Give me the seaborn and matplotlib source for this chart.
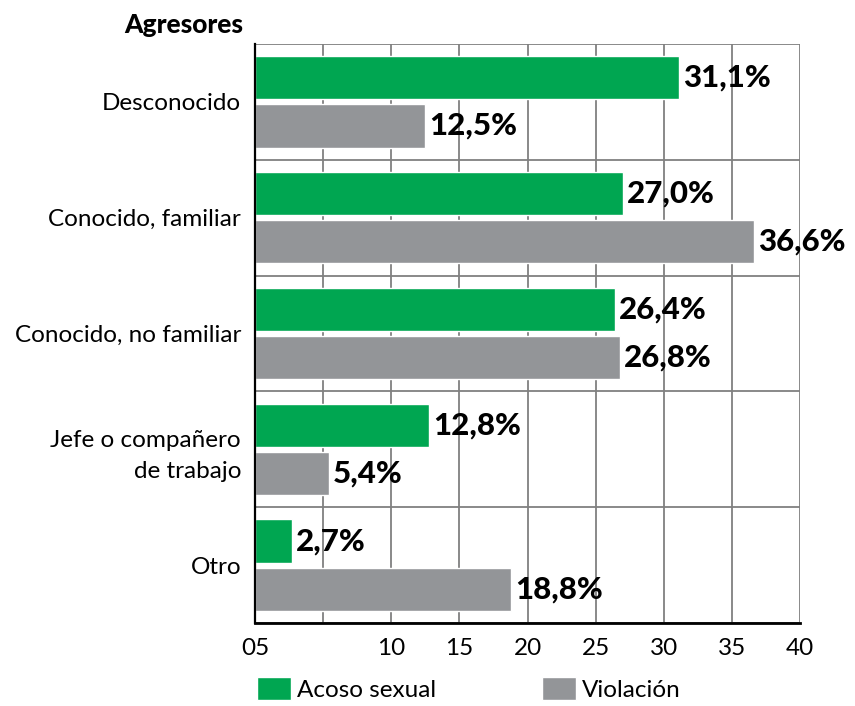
import seaborn as sns
import matplotlib.pyplot as plt
import pandas as pd

categories = ['Desconocido', 'Conocido, familiar', 'Conocido, no familiar',
              'Jefe o compañero\nde trabajo', 'Otro']
series = ['Acoso sexual', 'Violación']
acoso = [31.1, 27.0, 26.4, 12.8, 2.7]
violacion = [12.5, 36.6, 26.8, 5.4, 18.8]
xticks = [0, 5, 10, 15, 20, 25, 30, 35, 40]
xticklabels = ['05', '', '10', '15', '20', '25', '30', '35', '40']

df = pd.DataFrame({
    'cat': categories * 2,
    'serie': [series[0]] * 5 + [series[1]] * 5,
    'valor': acoso + violacion,
})

sns.set_style('white')
plt.rcParams['font.family'] = ['Lato', 'DejaVu Sans']
plt.rcParams['text.color'] = 'black'
plt.rcParams['xtick.labelcolor'] = 'black'
plt.rcParams['ytick.labelcolor'] = 'black'

fig = plt.figure(figsize=(8.55, 7.06), dpi=100)
ax = fig.add_axes([255 / 855, 1 - 623 / 706, 545 / 855, (623 - 44) / 706])

colores = ['#00A651', '#939598']
sns.barplot(data=df, y='cat', x='valor', hue='serie', orient='h',
            palette=colores, gap=0.1, width=0.83, saturation=1, ax=ax)

for cont in ax.containers:
    labs = [f"{b.get_width():.1f}".replace('.', ',') + '%' for b in cont]
    ax.bar_label(cont, labels=labs, padding=3, fontsize=22.5, fontweight='black',
                 color='black')

ax.set_xlim(0, 40)
ax.set_ylim(4.5, -0.5)
ax.set_xticks(xticks)
ax.set_xticklabels(xticklabels, fontsize=17.5)
ax.set_yticks(range(len(categories)))
ax.set_yticklabels(categories, fontsize=17.5)
ax.set_yticks([i - 0.5 for i in range(len(categories) + 1)], minor=True)
ax.set_xlabel('')
ax.set_ylabel('')

ax.tick_params(axis='y', which='major', length=0, pad=10, labelcolor='black')
ax.tick_params(axis='y', which='minor', length=16, width=1.3, color='#808080')
ax.tick_params(axis='x', which='major', length=5, width=1.3, color='#808080', pad=6,
               labelcolor='black')
ax.xaxis.get_major_ticks()[0].tick1line.set_color('black')

ax.set_axisbelow(True)
ax.grid(axis='x', which='major', color='#808080', linewidth=1.3)
ax.grid(axis='y', which='minor', color='#808080', linewidth=1.3)

for s in ['top', 'right']:
    ax.spines[s].set_visible(False)
ax.spines['left'].set_color('black')
ax.spines['left'].set_linewidth(1.6)
ax.spines['bottom'].set_color('black')
ax.spines['bottom'].set_linewidth(2)

for t in ax.get_yticklabels():
    if '\n' in t.get_text():
        t.set_linespacing(1.6)

ax.text(-12 / 545, 1.012, 'Agresores', transform=ax.transAxes, ha='right',
        va='bottom', fontsize=19, fontweight='black', color='black')

handles, labels = ax.get_legend_handles_labels()
ax.get_legend().remove()
leg = fig.legend(handles, labels, loc='upper left', bbox_to_anchor=(257 / 855, 1 - 677 / 706),
                 ncol=2, frameon=False, fontsize=17.5, handlelength=1.4, handleheight=1.11,
                 handletextpad=0.25, columnspacing=4.35, borderpad=0, borderaxespad=0)
for t in leg.get_texts():
    t.set_color('black')

fig.savefig('out.png', dpi=100)
